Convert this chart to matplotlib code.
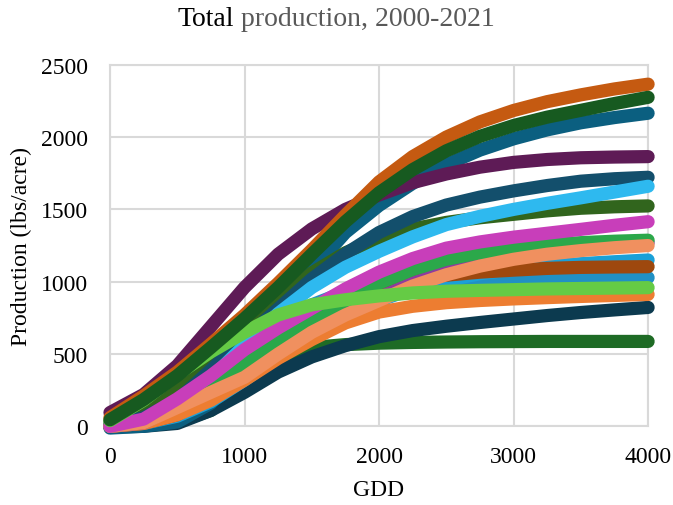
import matplotlib
matplotlib.use("Agg")
import matplotlib.pyplot as plt

plt.rcParams['font.family'] = ['Liberation Serif', 'DejaVu Serif']

gdd = [0, 250, 500, 750, 1000, 1250, 1500, 1750, 2000,
       2250, 2500, 2750, 3000, 3250, 3500, 3750, 4000]

# series drawn bottom to top
green_flat  = [0, 5, 30, 110, 300, 470, 545, 565, 575, 580, 583, 585, 586, 587, 587, 587, 587]
navy        = [-5, 0, 20, 110, 235, 375, 480, 558, 620, 662, 692, 718, 742, 766, 787, 805, 822]
teal        = [-12, 0, 30, 160, 420, 760, 1080, 1340, 1527, 1680, 1810, 1910, 1988, 2050, 2099, 2135, 2165]
purple      = [95, 220, 420, 690, 960, 1190, 1365, 1500, 1600, 1685, 1745, 1792, 1825, 1845, 1857, 1862, 1865]
olive       = [30, 120, 270, 460, 660, 870, 1060, 1200, 1300, 1365, 1410, 1442, 1466, 1490, 1508, 1518, 1524]
slate       = [10, 60, 180, 390, 605, 812, 1019, 1192, 1340, 1450, 1530, 1585, 1628, 1665, 1695, 1712, 1722]
sky         = [0, 40, 150, 330, 560, 780, 960, 1100, 1210, 1310, 1395, 1452, 1500, 1542, 1580, 1620, 1660]
blue_mid    = [0, 30, 120, 290, 500, 700, 840, 930, 975, 998, 1008, 1015, 1019, 1022, 1025, 1027, 1028]
cyan        = [0, 20, 70, 170, 320, 480, 640, 770, 870, 950, 1010, 1055, 1085, 1108, 1125, 1138, 1150]
brown       = [0, 20, 80, 200, 380, 570, 740, 870, 960, 1012, 1045, 1066, 1080, 1092, 1099, 1102, 1104]
orange      = [0, 20, 80, 180, 320, 470, 600, 715, 790, 830, 855, 870, 881, 890, 898, 905, 912]
purple_thin = [0, 25, 140, 250, 355, 515, 668, 790, 890, 990, 1068, 1128, 1176, 1210, 1235, 1255, 1270]
green       = [0, 40, 150, 290, 440, 580, 730, 870, 990, 1085, 1155, 1200, 1232, 1255, 1270, 1280, 1287]
salmon      = [0, 25, 130, 235, 339, 500, 650, 770, 870, 970, 1048, 1108, 1155, 1190, 1215, 1235, 1250]
magenta     = [0, 50, 190, 350, 530, 680, 815, 950, 1066, 1160, 1232, 1275, 1308, 1335, 1362, 1390, 1415]
green_light = [40, 180, 360, 515, 650, 770, 840, 875, 902, 922, 934, 940, 945, 950, 953, 956, 959]
orange_dark = [60, 210, 375, 570, 770, 990, 1220, 1460, 1690, 1865, 2000, 2105, 2184, 2245, 2292, 2333, 2366]
green_dark  = [45, 185, 350, 545, 745, 960, 1190, 1415, 1615, 1775, 1905, 2005, 2080, 2138, 2185, 2232, 2275]

series = [
    (green_flat, '#1E6B25'),
    (navy, '#0C3A4F'),
    (teal, '#0B5F80'),
    (purple, '#5E1B56'),
    (olive, '#31651D'),
    (slate, '#134F6C'),
    (sky, '#2EB9EF'),
    (blue_mid, '#2190C4'),
    (cyan, '#1AA0D8'),
    (brown, '#9E480E'),
    (orange, '#ED7D31'),
    (purple_thin, '#8E3C9E'),
    (green, '#2BA84A'),
    (salmon, '#F0905F'),
    (magenta, '#C83EBA'),
    (green_light, '#65CB45'),
    (orange_dark, '#C55A11'),
    (green_dark, '#175A20'),
]

fig = plt.figure(figsize=(6.73, 5.06), dpi=100)
ax = fig.add_axes([0.1634, 0.1555, 0.7996, 0.7145])

for vals, col in series:
    ax.plot(gdd, vals, color=col, lw=9.5, solid_capstyle='round',
            solid_joinstyle='round', zorder=3, clip_on=False)

ax.set_xlim(0, 4000)
ax.set_ylim(0, 2500)
ax.set_xticks([0, 1000, 2000, 3000, 4000])
ax.set_yticks([0, 500, 1000, 1500, 2000, 2500])
ax.grid(True, color='#D9D9D9', lw=1.5, zorder=0)
for s in ax.spines.values():
    s.set_color('#D9D9D9')
    s.set_linewidth(1.5)
    s.set_zorder(0)
ax.tick_params(length=0, labelsize=17)
ax.tick_params(axis='y', pad=16)
ax.tick_params(axis='x', pad=14)
ax.set_xlabel('GDD', fontsize=17, labelpad=9)
ax.set_ylabel('Production (lbs/acre)', fontsize=17, labelpad=6)

# two-colour centred title
fig.canvas.draw()
r = fig.canvas.get_renderer()
t1 = fig.text(0, 0.962, 'Total', ha='left', va='center', fontsize=20, color='black')
t2 = fig.text(0, 0.962, ' production, 2000-2021', ha='left', va='center', fontsize=20, color='#595959')
w1 = t1.get_window_extent(r).width
w2 = t2.get_window_extent(r).width
W = fig.bbox.width
x0 = (W - (w1 + w2)) / 2.0
t1.set_x(x0 / W)
t2.set_x((x0 + w1) / W)

fig.savefig('out.png', dpi=100)
